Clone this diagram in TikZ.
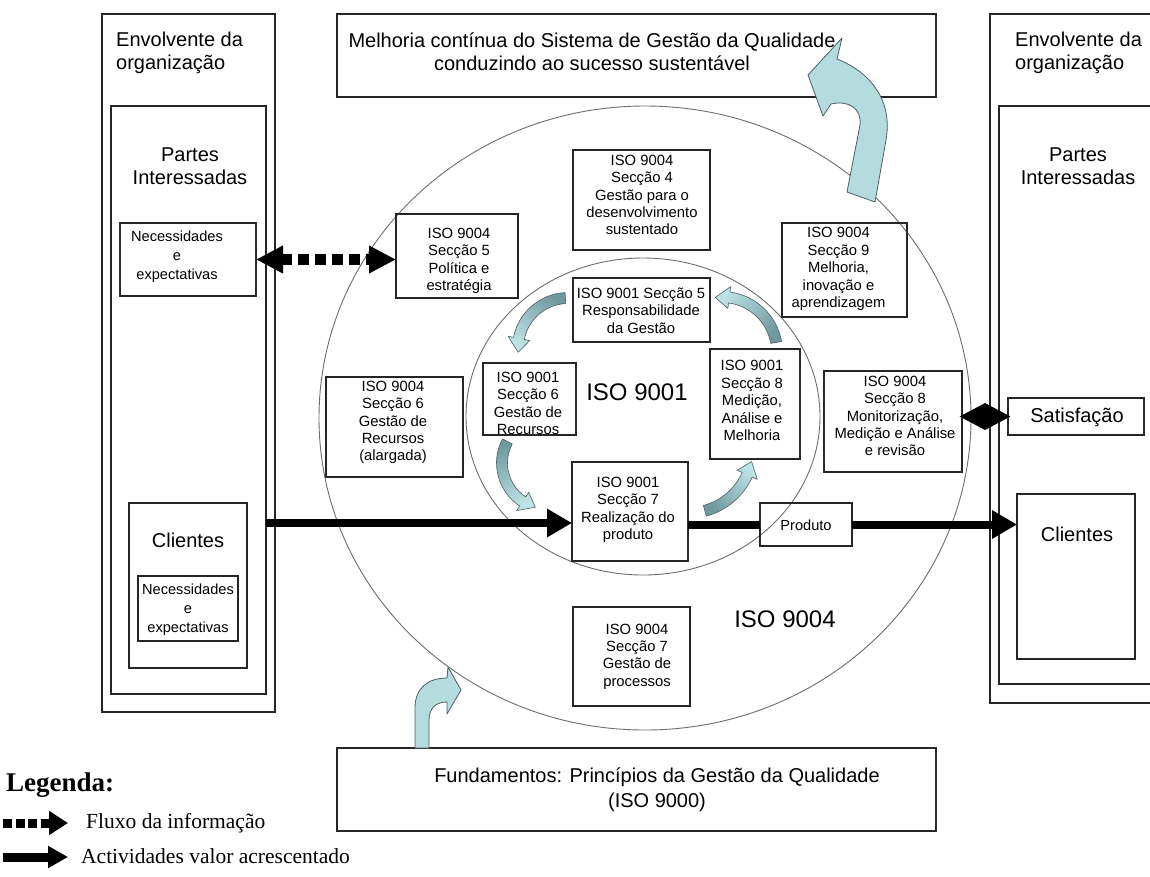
\documentclass[tikz,border=0pt]{standalone}
\usepackage{fontspec}
\setmainfont{Liberation Sans}
\newfontfamily\legfont{Liberation Serif}
\usetikzlibrary{arrows.meta,shapes.geometric,calc}
\definecolor{arrowblue}{HTML}{B4DCDF}
\definecolor{arrowdark}{HTML}{6F999F}
\definecolor{arrowlight}{HTML}{BEE3E6}
\definecolor{arrowedge}{HTML}{4F5F61}
\definecolor{ringgray}{HTML}{6E6E6E}
\newcommand\bx[5]{\node[box, minimum width={#4-#2}, minimum height={#5-#3}] (#1) at ({(#2+#4)/2},{-(#3+#5)/2}) {};}
\newcommand\cycarrow[6]{%
  \pgfmathsetmacro\cyHl{14/#3*57.2958}%
  \pgfmathsetmacro\cyAh{#5-\cyHl}%
  \pgfmathsetmacro\cyRo{#3+5.5}%
  \pgfmathsetmacro\cyRi{#3-5.5}%
  \pgfmathsetmacro\cyHo{#3+11}%
  \pgfmathsetmacro\cyHi{#3-11}%
  \draw[cycshape, shading angle=#6]
    ($(#1,-#2)+(#4:\cyRo)$) arc[start angle=#4, end angle=\cyAh, radius=\cyRo]
    -- ($(#1,-#2)+(\cyAh:\cyHo)$) -- ($(#1,-#2)+(#5:#3)$)
    -- ($(#1,-#2)+(\cyAh:\cyHi)$) -- ($(#1,-#2)+(\cyAh:\cyRi)$)
    arc[start angle=\cyAh, end angle=#4, radius=\cyRi] -- cycle;}
\begin{document}
\begin{tikzpicture}[x=1pt,y=1pt,
  box/.style={draw=black!85, line width=1.1pt, rectangle, inner sep=0pt, outer sep=0pt},
  txt/.style={inner sep=0pt, align=center, font=\fontsize{14.8}{17.4}\selectfont},
  bigtxt/.style={inner sep=0pt, align=center, font=\fontsize{20}{23}\selectfont},
  needtxt/.style={inner sep=0pt, align=center, font=\fontsize{14.6}{19}\selectfont},
  isotxt/.style={inner sep=0pt, font=\fontsize{24}{28}\selectfont},
  legtxt/.style={inner sep=0pt, font=\legfont\fontsize{21.5}{24}\selectfont},
  legtitle/.style={inner sep=0pt, font=\legfont\bfseries\fontsize{27}{30}\selectfont},
  ring/.style={draw=ringgray, line width=0.9pt},
  bigblue/.style={fill=arrowblue, draw=arrowedge, line width=0.8pt, line join=round},
  cycshape/.style={top color=arrowdark, bottom color=arrowlight, draw=arrowedge, line width=0.6pt, line join=round},
  thickline/.style={line width=8pt, black},
  thickarrow/.style={line width=8pt, black, -{Triangle[length=25pt,width=27pt]}},
  dasharrow/.style={line width=11pt, black, dash pattern=on 11pt off 6pt, {Triangle[length=27pt,width=26pt]}-{Triangle[length=27pt,width=26pt]}},
  legdash/.style={line width=9pt, black, dash pattern=on 9pt off 3.5pt, -{Triangle[length=19pt,width=23pt]}},
  legsolid/.style={line width=9pt, black, -{Triangle[length=20pt,width=21pt]}},
  dmd/.style={diamond, fill=black, draw=none, minimum width=51pt, minimum height=27pt, inner sep=0pt}
]
\path[use as bounding box] (0,0) rectangle (1150,-876);
\clip (0,0) rectangle (1150,-876);
\fill[white] (0,0) rectangle (1150,-876);

% circles
\draw[ring] (645,-418) ellipse [x radius=326, y radius=312];
\draw[ring] (643,-416.5) ellipse [x radius=177, y radius=158.5];

% boxes
\bx{envL}{102}{14}{275}{712}
\bx{partesL}{111}{106}{266}{694}
\bx{necL}{120}{223}{256}{296}
\bx{cliL}{129}{503}{247}{668}
\bx{necLc}{138}{576}{238}{641}
\bx{envR}{990}{14}{1170}{703}
\bx{partesR}{999}{106}{1165}{684}
\bx{sat}{1008}{398}{1144}{435}
\bx{cliR}{1017}{494}{1135}{659}
\bx{melhoria}{337}{14}{936}{97}
\bx{fund}{337}{748}{936}{831}
\bx{b95}{396}{214}{518}{298}
\bx{b94}{573}{150}{710}{250}
\bx{b99}{782}{223}{907}{317}
\bx{b96}{326}{377}{463}{477}
\bx{b98}{824}{371}{962}{472}
\bx{b97}{573}{607}{690}{706}
\bx{b15}{573}{278}{710}{342}
\bx{b16}{483}{363}{576}{435}
\bx{b18}{710}{349}{800}{459}
\bx{b17}{572}{462}{688}{561}
\bx{produto}{760}{503}{852}{546}

% texts
\node[bigtxt, align=left, anchor=west] (tEnvL) at (116,-52.5) {Envolvente da\\organização};
\node[bigtxt, align=left, anchor=west] (tEnvR) at (1015,-52.5) {Envolvente da\\organização};
\node[bigtxt] (tPartL) at (190,-166) {Partes\\Interessadas};
\node[bigtxt] (tPartR) at (1078,-166) {Partes\\Interessadas};
\node[bigtxt] (tMel) at (592,-52) {Melhoria contínua do Sistema de Gestão da Qualidade\\conduzindo ao sucesso sustentável};
\node[bigtxt, font=\fontsize{20}{24.5}\selectfont] (tFund) at (657,-789.5) {Fundamentos: Princípios da Gestão da Qualidade\\(ISO 9000)};
\node[bigtxt] (tCliL) at (188,-540) {Clientes};
\node[bigtxt] (tCliR) at (1077,-534) {Clientes};
\node[bigtxt] (tSat) at (1077,-417.5) {Satisfação};
\node[needtxt] (tNecL) at (177,-257) {Necessidades\\e\\expectativas};
\node[needtxt] (tNecLc) at (188,-610) {Necessidades\\e\\expectativas};
\node[needtxt] (tProd) at (806,-525) {Produto};
\node[txt] (t95) at (459,-261) {ISO 9004\\Secção 5\\Política e\\estratégia};
\node[txt] (t94) at (642,-195) {ISO 9004\\Secção 4\\Gestão para o\\desenvolvimento\\sustentado};
\node[txt] (t99) at (838.5,-269) {ISO 9004\\Secção 9\\Melhoria,\\inovação e\\aprendizagem};
\node[txt] (t96) at (393,-422.5) {ISO 9004\\Secção 6\\Gestão de\\Recursos\\(alargada)};
\node[txt] (t98) at (895,-416) {ISO 9004\\Secção 8\\Monitorização,\\Medição e Análise\\e revisão};
\node[txt] (t97) at (637,-656.5) {ISO 9004\\Secção 7\\Gestão de\\processos};
\node[txt] (t15) at (641,-310.5) {ISO 9001 Secção 5\\Responsabilidade\\da Gestão};
\node[txt] (t16) at (528,-403.5) {ISO 9001\\Secção 6\\Gestão de\\Recursos};
\node[txt] (t18) at (752,-400.5) {ISO 9001\\Secção 8\\Medição,\\Análise e\\Melhoria};
\node[txt] (t17) at (628,-510) {ISO 9001\\Secção 7\\Realização do\\produto};
\node[isotxt] (t9001) at (637,-392) {ISO 9001};
\node[isotxt] (t9004) at (785,-619) {ISO 9004};

% connectors
\coordinate (yA) at (0,-523);
\draw[thickarrow] (partesL.east |- yA) -- (b17.west |- yA);
\draw[thickline] (b17.east |- produto.west) -- (produto.west);
\draw[thickarrow] (produto.east) -- (cliR.west |- produto.east);
\draw[dasharrow] (necL.east) -- (b95.west |- necL.east);
\path (b98.east |- sat.west) -- (sat.west) node[midway, dmd] (diam) {};

% cycle arrows inside ISO 9001
\cycarrow{568}{348}{50}{93}{185}{-41}
\cycarrow{722}{352}{55}{10}{97}{-126.5}
\cycarrow{548}{463}{46}{152}{254}{23}
\cycarrow{688}{448}{65}{285}{348}{136.5}

% large curved arrows
\draw[bigblue] (842,-38) -- (808,-75) -- (823,-116) -- (831,-104)
  .. controls (848,-100) and (862,-108) .. (860,-125) -- (847,-192) -- (875,-202) -- (886,-140)
  .. controls (893,-100) and (870,-72) .. (837,-59) -- cycle;
\draw[bigblue] (415,-748) -- (415,-708) .. controls (415,-688) and (428,-678) .. (447,-678)
  -- (448,-667) -- (461,-690) -- (447,-714) -- (447,-702)
  .. controls (436,-702) and (429,-708) .. (429,-720) -- (429,-748) -- cycle;

% legend
\node[legtitle, anchor=west] (legT) at (6,-785) {Legenda:};
\coordinate (lg1a) at (3,-823);
\coordinate (lg1b) at (68,-823);
\draw[legdash] (lg1a) -- (lg1b);
\node[legtxt, anchor=west] (leg1) at (86,-823) {Fluxo da informação};
\coordinate (lg2a) at (3,-857);
\coordinate (lg2b) at (68,-857);
\draw[legsolid] (lg2a) -- (lg2b);
\node[legtxt, anchor=west] (leg2) at (81,-856) {Actividades valor acrescentado};
\end{tikzpicture}
\end{document}
